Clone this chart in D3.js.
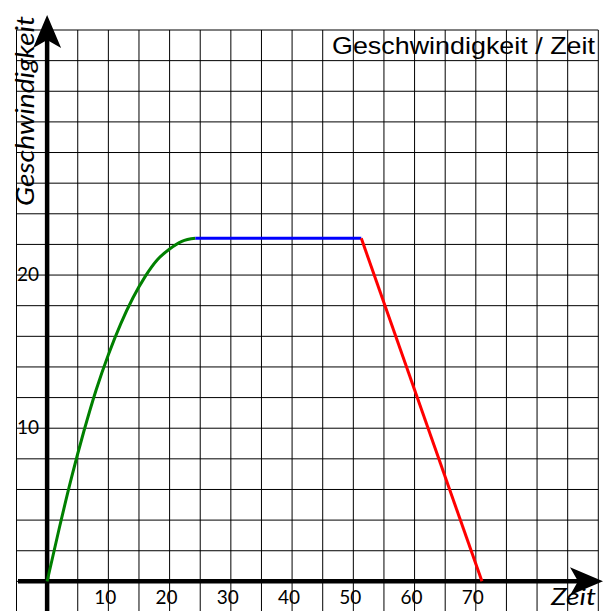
<!DOCTYPE html>
<html>
<head>
<meta charset="utf-8">
<script src="https://cdn.jsdelivr.net/npm/d3@7"></script>
<style>
  body { margin: 0; background: #fff; }
</style>
</head>
<body>
<svg width="603" height="611"></svg>
<script>

// speed over time, three phases
var accelTime  = [0, 2, 4, 6, 8, 10, 12, 14, 16, 18, 20, 22, 24.2];
var accelSpeed = [0, 3.5, 6.8, 9.8, 12.5, 14.8, 16.8, 18.5, 19.9, 21, 21.7, 22.2, 22.4];
var cruiseTime  = [24.2, 51.3];
var cruiseSpeed = [22.4, 22.4];
var brakeTime  = [51.3, 71];
var brakeSpeed = [22.4, 0];

var xTickLabels = [10, 20, 30, 40, 50, 60, 70];
var yTickLabels = [10, 20];

var svg = d3.select("svg"),
    width = +svg.attr("width"),
    height = +svg.attr("height");

var x = d3.scaleLinear().domain([-5, 90]).range([16.5, 598.3]);
var y = d3.scaleLinear().domain([-2, 36]).range([612, 30]);

// grid
var grid = svg.append("g").attr("stroke", "#000").attr("stroke-width", 1);
grid.selectAll(".vl")
  .data(d3.range(-5, 91, 5))
  .enter().append("line")
    .attr("x1", function(d) { return x(d); })
    .attr("x2", function(d) { return x(d); })
    .attr("y1", y(36))
    .attr("y2", height);
grid.selectAll(".hl")
  .data(d3.range(-2, 37, 2))
  .enter().append("line")
    .attr("x1", x(-5))
    .attr("x2", x(90))
    .attr("y1", function(d) { return y(d); })
    .attr("y2", function(d) { return y(d); });

// title
svg.append("text")
    .attr("x", 595)
    .attr("y", 54)
    .attr("text-anchor", "end")
    .attr("font-family", "Liberation Sans, Arial, sans-serif")
    .attr("font-size", 24)
    .attr("textLength", 263)
    .attr("lengthAdjust", "spacingAndGlyphs")
    .text("Geschwindigkeit / Zeit");

// tick labels
svg.selectAll(".xt")
  .data(xTickLabels)
  .enter().append("text")
    .attr("x", function(d) { return x(d) - 3; })
    .attr("y", 604)
    .attr("text-anchor", "middle")
    .attr("font-family", "Lato, sans-serif")
    .attr("font-size", 19)
    .text(function(d) { return d; });

svg.selectAll(".yt")
  .data(yTickLabels)
  .enter().append("text")
    .attr("x", 17)
    .attr("y", function(d) { return y(d) + 6; })
    .attr("font-family", "Lato, sans-serif")
    .attr("font-size", 19)
    .text(function(d) { return d; });

// axes with arrows
var x0 = x(0), y0 = y(0);
svg.append("line")
    .attr("x1", 18).attr("x2", 585)
    .attr("y1", y0).attr("y2", y0)
    .attr("stroke", "#000").attr("stroke-width", 4.5);
svg.append("line")
    .attr("x1", x0).attr("x2", x0)
    .attr("y1", height).attr("y2", 30)
    .attr("stroke", "#000").attr("stroke-width", 4.5);

svg.append("path")
    .attr("d", "M" + x0 + ",15 L" + (x0 + 14) + ",48 L" + x0 + ",40 L" + (x0 - 14) + ",48 Z")
    .attr("fill", "#000");
svg.append("path")
    .attr("d", "M603," + y0 + " L570," + (y0 - 14) + " L578," + y0 + " L570," + (y0 + 14) + " Z")
    .attr("fill", "#000");

// axis titles
svg.append("text")
    .attr("transform", "translate(34,206) rotate(-90)")
    .attr("font-family", "Lato, sans-serif")
    .attr("font-style", "italic")
    .attr("font-size", 25)
    .attr("textLength", 190)
    .attr("lengthAdjust", "spacingAndGlyphs")
    .text("Geschwindigkeit");

svg.append("text")
    .attr("x", 551)
    .attr("y", 605)
    .attr("font-family", "Lato, sans-serif")
    .attr("font-style", "italic")
    .attr("font-size", 24)
    .attr("textLength", 45)
    .attr("lengthAdjust", "spacingAndGlyphs")
    .text("Zeit");

// curves
var line = d3.line()
    .x(function(d) { return x(d[0]); })
    .y(function(d) { return y(d[1]); });

function draw(ts, vs, color, curve) {
  svg.append("path")
      .datum(d3.zip(ts, vs))
      .attr("fill", "none")
      .attr("stroke", color)
      .attr("stroke-width", 3)
      .attr("d", line.curve(curve));
}

draw(accelTime, accelSpeed, "#008000", d3.curveMonotoneX);
draw(cruiseTime, cruiseSpeed, "#0000ff", d3.curveLinear);
draw(brakeTime, brakeSpeed, "#ff0000", d3.curveLinear);

</script>
</body>
</html>
